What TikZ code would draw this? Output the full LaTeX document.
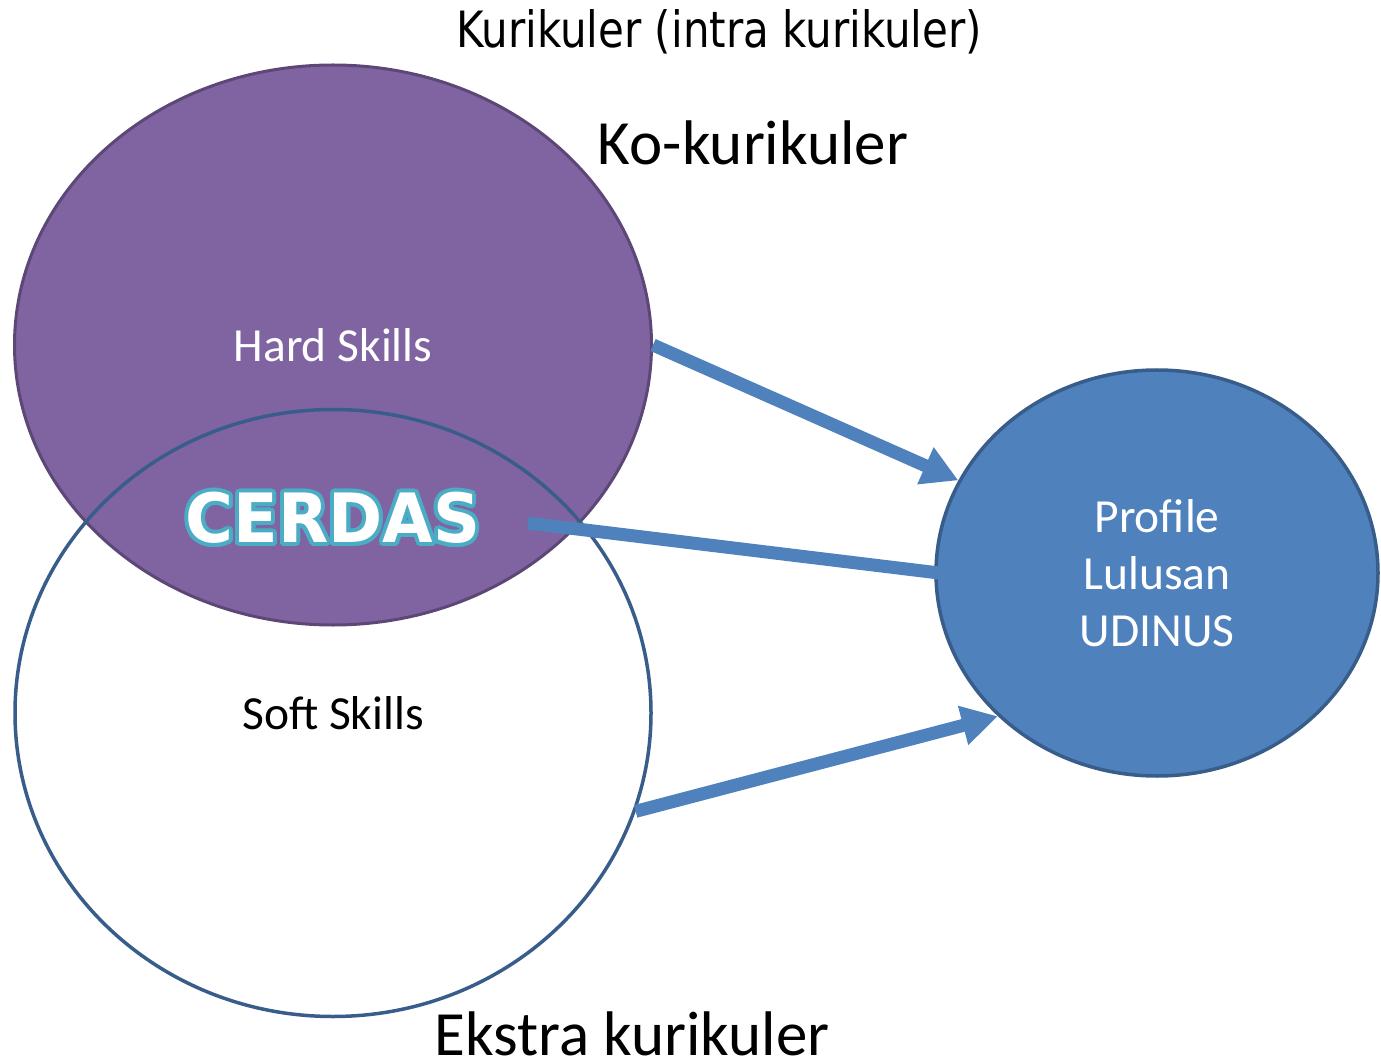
\documentclass[tikz,border=0pt]{standalone}
\usepackage{fontspec}
\setmainfont{Carlito}
\newfontfamily\tahomafont[FakeStretch=0.84]{DejaVu Sans}
\newfontfamily\cerdasfont[FakeStretch=0.96]{DejaVu Sans}
\usepackage{tikz}
\usetikzlibrary{arrows.meta, positioning, shapes.geometric}
\definecolor{hardpurple}{HTML}{8064A2}
\definecolor{hardline}{HTML}{5C4776}
\definecolor{profblue}{HTML}{4F81BD}
\definecolor{profline}{HTML}{385D8A}
\definecolor{cerdasteal}{HTML}{4BACC6}

\begin{document}
\begin{tikzpicture}[x=1pt, y=-1pt,
    blob/.style={ellipse, inner sep=0pt, line width=3.5pt},
    lbl/.style={font=\fontsize{47.5}{57}\selectfont, align=center},
    title/.style={anchor=base, font=\fontsize{63}{76}\selectfont},
    cerdastext/.style={font=\cerdasfont\bfseries\fontsize{68}{80}\selectfont},
    link/.style={-{Triangle[length=36pt, width=38pt]}, line width=13pt, profblue}]
    \useasboundingbox (0,0) rectangle (1381,1064);

    % Skill circles and profile
    \node[blob, draw=hardline, line width=3pt, fill=hardpurple, minimum width=637pt, minimum height=560pt, lbl, text=white] (hard) at (333,345) {Hard Skills};
    \node[blob, draw=profline, minimum width=636pt, minimum height=607pt, lbl] (soft) at (333,713) {Soft Skills};
    \node[blob, draw=profline, fill=profblue, minimum width=442pt, minimum height=406pt, lbl, text=white] (profile) at (1157,573) {Profile\\Lulusan\\UDINUS};

    % CERDAS with outline
    \foreach \a in {0,22.5,...,337.5}
        \node[cerdastext, text=cerdasteal, shift={(\a:4)}] at (333,518) {CERDAS};
    \node[cerdastext, text=white] (cerdas) at (333,518) {CERDAS};

    % Titles
    \node[anchor=base, font=\tahomafont\fontsize{50}{60}\selectfont] (intra) at (719,48) {Kurikuler (intra kurikuler)};
    \node[title] (ko) at (753,165) {Ko-kurikuler};
    \node[title] (ekstra) at (632,1055) {Ekstra kurikuler};

    % Arrows
    \draw[link] (hard.east) -- (profile.155);
    \draw[link] ([xshift=44pt,yshift=-5pt]cerdas.east) -- ([xshift=46pt,yshift=-5pt]profile.west);
    \draw[link] (soft.-18) -- (profile.222);
\end{tikzpicture}
\end{document}
